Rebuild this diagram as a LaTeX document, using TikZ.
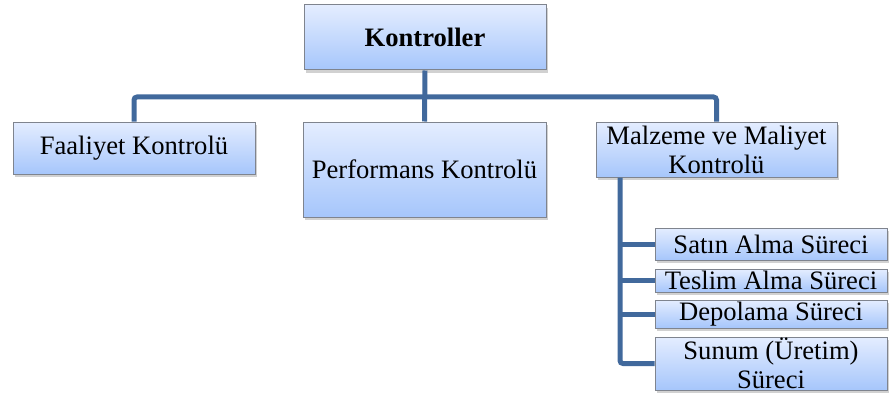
\documentclass[tikz,border=0pt]{standalone}
\usepackage{fontspec}
\setmainfont{Liberation Serif}
\usetikzlibrary{shadows}
\definecolor{linkblue}{HTML}{41699C}
\definecolor{boxtop}{HTML}{E4EDFF}
\definecolor{boxbot}{HTML}{A6C6FB}
\definecolor{boxedge}{HTML}{7F848E}
\tikzset{
  box/.style={draw=boxedge, line width=1pt, top color=boxtop, bottom color=boxbot,
    align=center, inner sep=0pt, font=\fontsize{26.6}{29}\selectfont,
    drop shadow={shadow xshift=2pt, shadow yshift=-3pt, opacity=0.3, fill=black!60}},
  link/.style={draw=linkblue, line width=5pt, rounded corners=3pt}
}
\begin{document}
\begin{tikzpicture}[x=1pt, y=-1pt]
\useasboundingbox (0,0) rectangle (892,396);
% top level
\node[box, minimum width=242pt, minimum height=65pt, font=\fontsize{26.6}{29}\selectfont\bfseries]
  (k) at (425,37.5) {Kontroller};
% second level
\node[box, minimum width=242pt, minimum height=52pt] (f) at (134,148) {Faaliyet Kontrolü};
\node[box, minimum width=243pt, minimum height=95pt] (p) at (424.5,169.5) {Performans Kontrolü};
\node[box, minimum width=241pt, minimum height=55pt] (m) at (716.5,149.5) {Malzeme ve Maliyet\\Kontrolü};
% processes under Malzeme ve Maliyet
\node[box, minimum width=232pt, minimum height=32pt] (s1) at (771,244) {Satın Alma Süreci};
\node[box, minimum width=232pt, minimum height=23pt] (s2) at (771,280.5) {Teslim Alma Süreci};
\node[box, minimum width=232pt, minimum height=28pt] (s3) at (771,314) {Depolama Süreci};
\node[box, minimum width=232pt, minimum height=53pt] (s4) at (771,363.5) {Sunum (Üretim)\\Süreci};
% connectors
\coordinate (bar) at (0,97);
\coordinate (spine) at (620,0);
\draw[link] (f.north) -- (f.north |- bar) -- (m.north |- bar) -- (m.north);
\draw[link, rounded corners=0pt] (k.south) -- (p.north);
\draw[link] (m.south -| spine) -- (spine |- s4.west) -- (s4.west);
\draw[link, rounded corners=0pt] (spine |- s1.west) -- (s1.west);
\draw[link, rounded corners=0pt] (spine |- s2.west) -- (s2.west);
\draw[link, rounded corners=0pt] (spine |- s3.west) -- (s3.west);
\end{tikzpicture}
\end{document}
